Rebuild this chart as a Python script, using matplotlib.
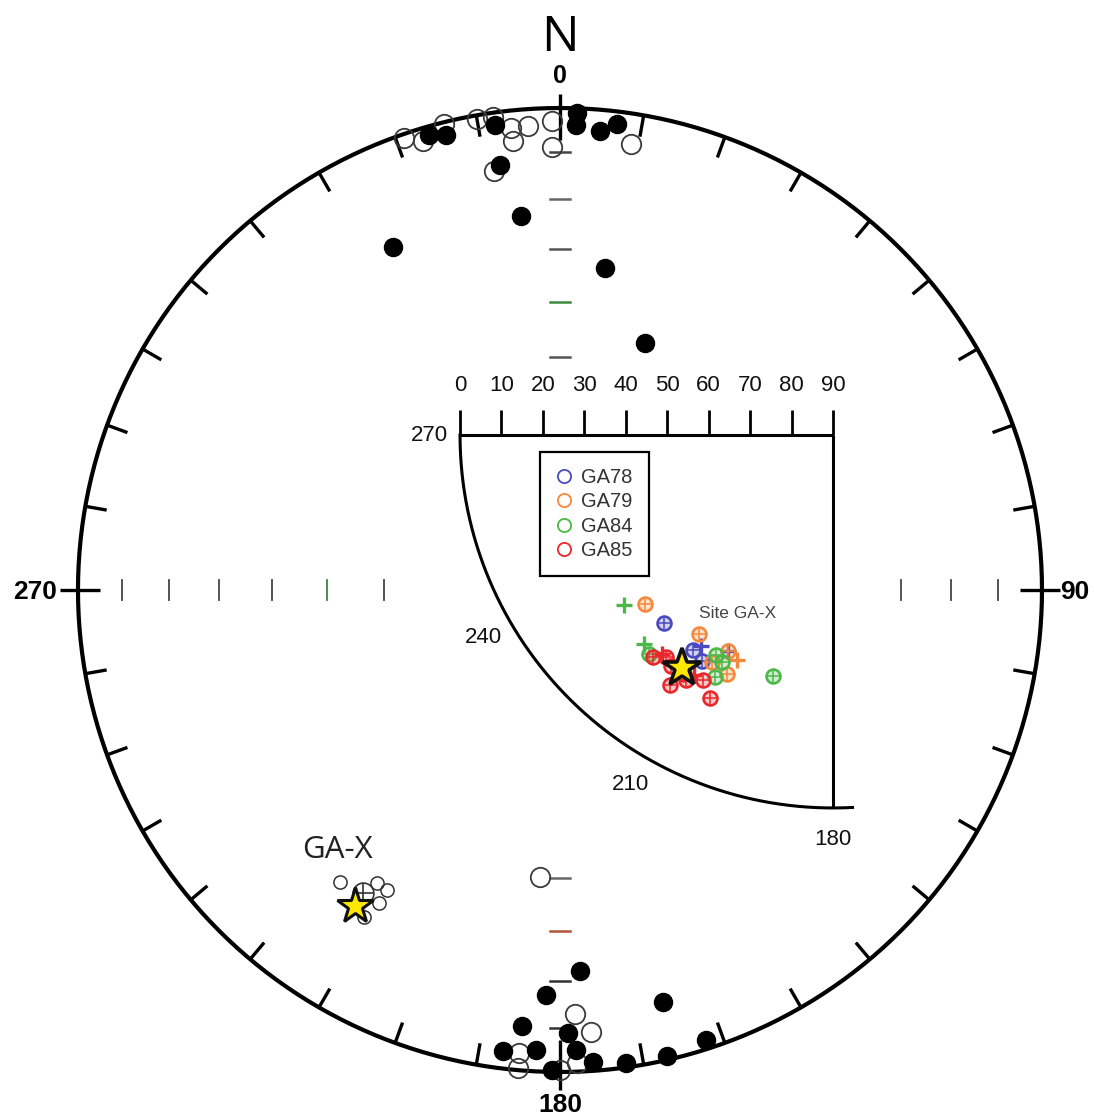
import numpy as np
import matplotlib
matplotlib.use("Agg")
import matplotlib.pyplot as plt
from matplotlib.lines import Line2D

# ---------------------------------------------------------------- data
# Specimen directions (declination, inclination in degrees).
# Positive inclination = lower hemisphere (filled), negative = upper (open).
lower_dec = [344, 346, 352, 2, 2, 5, 7, 352, 354, 334, 8, 19,
             177, 182, 166, 185, 179, 187, 183, 178, 176, 172, 167, 162, 181]
lower_inc = [2, 3, 3, 1, 4, 5, 3, 12, 23, 22, 33, 45,
             22, 17, 13, 10, 9, 4, 5, 5, 2, 1, 1, 2, 0.5]

upper_dec = [341, 343, 346, 350, 352, 354, 356, 359, 354, 359, 9, 351,
             178, 176, 185, 185, 178, 180, 184]
upper_inc = [-1, -3, -0.5, -1, -1, -4, -4, -3, -7, -9, -7, -13,
             -13, -9, -4, -0.5, -2, -0.5, -40]

# Site GA-X specimens and site mean (upper hemisphere)
gax_dec = [217, 212, 210, 210, 211]
gax_inc = [-25, -29, -29, -26, -22]
gax_mean_dec, gax_mean_inc = 213, -26

# Overall mean direction (star)
mean_dec, mean_inc = 213, 23

# Inset: directions per site, split by marker type
sites = ["GA78", "GA79", "GA84", "GA85"]
site_colors = ["#4a4ac0", "#f5883a", "#4cb848", "#e8282b"]
circ_dec = {"GA78": [222, 213, 210],
            "GA79": [214, 206, 204, 208, 228],
            "GA84": [220, 208, 206, 206, 194],
            "GA85": [219, 217, 213, 208, 205, 215, 211, 212]}
circ_inc = {"GA78": [29, 28, 27],
            "GA79": [32, 32, 27, 28, 29],
            "GA84": [21, 30, 29, 25, 30],
            "GA85": [21, 23, 18, 23, 20, 22, 21, 22]}
plus_dec = {"GA78": [212, 206], "GA79": [203], "GA84": [222, 231], "GA85": [218, 210]}
plus_inc = {"GA78": [30, 32], "GA79": [31], "GA84": [22, 25], "GA85": [23, 23]}

# Tick inclinations along the N/S/E/W axes and their colours
axis_ticks = {
    0:   ([10, 20, 30, 40, 50], ["#444444", "#666666", "#555555", "#3a8a3a", "#555555"]),
    180: ([40, 30, 20, 10], ["#666666", "#b5533c", "#333333", "#333333"]),
    270: ([10, 20, 30, 40, 50, 60], ["#444444", "#444444", "#444444", "#444444", "#3a8a3a", "#444444"]),
    90:  ([30, 20, 10], ["#444444", "#444444", "#444444"]),
}
inset_ticks = [0, 10, 20, 30, 40, 50, 60, 70, 80, 90]
inset_dec_labels = [270, 240, 210, 180]


# ---------------------------------------------------------------- projections
def eqarea(dec, inc):
    """Lambert equal-area (Schmidt) projection onto the unit circle."""
    d = np.radians(np.asarray(dec, float))
    i = np.abs(np.asarray(inc, float))
    r = np.sqrt(2) * np.sin(np.radians(90 - i) / 2)
    return r * np.sin(d), r * np.cos(d)


def polar_xy(dec, r):
    d = np.radians(np.asarray(dec, float))
    r = np.asarray(r, float)
    return r * np.sin(d), r * np.cos(d)


def polar_lin(dec, inc):
    """Linear polar plot: distance from centre = 90 - |inc| (degrees)."""
    return polar_xy(dec, 90 - np.abs(np.asarray(inc, float)))


# ---------------------------------------------------------------- figure
W, H = 1094, 1120
fig = plt.figure(figsize=(W / 100, H / 100), dpi=100)
ax = fig.add_axes([0, 0, 1, 1])
ax.set_xlim(-1.1618, 1.1079)
ax.set_ylim(-1.0996, 1.2241)
ax.axis("off")

# primitive circle
t = np.linspace(0, 2 * np.pi, 721)
ax.plot(np.sin(t), np.cos(t), color="black", lw=3, zorder=3)

# rim ticks every 10 degrees
for d in range(0, 360, 10):
    r0, r1 = 0.955, 1.0
    if d == 0:
        r0, r1 = 0.934, 1.03
    elif d == 180:
        r0, r1 = 0.934, 1.037
    elif d in (90, 270):
        r0, r1 = 0.955, 1.038
    s, c = np.sin(np.radians(d)), np.cos(np.radians(d))
    ax.plot([r0 * s, r1 * s], [r0 * c, r1 * c], color="black", lw=2.4,
            solid_capstyle="butt", zorder=3)

# inclination ticks along the cardinal axes
half = 0.021
for d, (incs, cols) in axis_ticks.items():
    x, y = eqarea([d] * len(incs), incs)
    for xi, yi, col in zip(x, y, cols):
        if d in (0, 180):
            ax.plot([-half, half], [yi, yi], color=col, lw=1.8, zorder=2)
        else:
            ax.plot([xi, xi], [-half, half], color=col, lw=1.3, zorder=2)

# specimen directions
xu, yu = eqarea(upper_dec, upper_inc)
ax.plot(xu, yu, "o", ms=14, mfc="none", mec="#3a3a3a", mew=1.3, zorder=4)
xl, yl = eqarea(lower_dec, lower_inc)
ax.plot(xl, yl, "o", ms=13, mfc="black", mec="black", zorder=5)

# site GA-X
xg, yg = eqarea(gax_dec, gax_inc)
ax.plot(xg, yg, "o", ms=9.5, mfc="none", mec="#333333", mew=1.1, zorder=4)
xm, ym = eqarea(gax_mean_dec, gax_mean_inc)
ax.plot(xm, ym, "o", ms=15, mfc="none", mec="#333333", mew=1.2, zorder=4)
ax.plot(xm, ym, "+", ms=15, mec="#333333", mew=1.2, zorder=4)
xs, ys = eqarea(mean_dec, mean_inc)
ax.plot(xs, ys, "*", ms=27, mfc="#ffe800", mec="#111111", mew=2.2, zorder=6)

# labels of the main net
lab = dict(family=["Liberation Sans", "DejaVu Sans"], fontweight="bold",
           ha="center", va="center", color="black")
ax.text(0, 1.145, "N", family=["Open Sans", "DejaVu Sans"], fontsize=36,
        ha="center", va="center")
ax.text(0, 1.066, "0", fontsize=18, **lab)
ax.text(0, -1.068, "180", fontsize=19, **lab)
ax.text(-1.089, -0.004, "270", fontsize=19, **lab)
ax.text(1.068, -0.004, "90", fontsize=19, **lab)
ax.text(-0.4627, -0.539, "GA-X", family=["Open Sans", "DejaVu Sans"],
        fontsize=22.5, ha="center", va="center", color="#222222")

# ---------------------------------------------------------------- inset
px = 4.144  # pixels per degree in the inset
cx, cy = 833, 435  # pixel location of the inset centre (inc = 90)
bx0, bx1, by0, by1 = 400, 870, 360, 870
axi = fig.add_axes([bx0 / W, 1 - by1 / H, (bx1 - bx0) / W, (by1 - by0) / H])
axi.set_xlim((bx0 - cx) / px, (bx1 - cx) / px)
axi.set_ylim((cy - by1) / px, (cy - by0) / px)
axi.axis("off")

ink = "#111111"
num = dict(ha="center", va="center", fontsize=16, color=ink,
           family=["Liberation Sans", "DejaVu Sans"])
axi.plot([-90, 0], [0, 0], color="black", lw=2.2, solid_capstyle="butt")
axi.plot([0, 0], [0, -90], color="black", lw=2.2, solid_capstyle="butt")
ta = np.linspace(177, 270, 200)
xa, ya = polar_xy(ta, 90)
axi.plot(xa, ya, color="black", lw=2.2)
for v in inset_ticks:
    x = -(90 - v)
    axi.plot([x, x], [0, 6], color="black", lw=2, solid_capstyle="butt")
    axi.text(x, 12, str(v), **num)
for d in inset_dec_labels:
    x, y = polar_xy(d, 97.5)
    axi.text(x, y, str(d), **num)

for s, col in zip(sites, site_colors):
    x, y = polar_lin(circ_dec[s], circ_inc[s])
    axi.plot(x, y, "o", ms=10, mfc=col + "40", mec=col, mew=1.9, zorder=3)
    axi.plot(x, y, "+", ms=10, mec=col, mew=1.1, zorder=3)
    x, y = polar_lin(plus_dec[s], plus_inc[s])
    axi.plot(x, y, "+", ms=11, mec=col, mew=2.4, zorder=3)

xs, ys = polar_lin(mean_dec, mean_inc)
axi.plot(xs, ys, "*", ms=29, mfc="#ffe800", mec="#111111", mew=2.6, zorder=5)
axi.text((738 - cx) / px, (cy - 613) / px, "Site GA-X", ha="center", va="center",
         fontsize=12.5, family=["Liberation Sans", "DejaVu Sans"], color="#444444")

handles = [Line2D([], [], ls="none", marker="o", ms=9.5, mfc="none", mec=c, mew=1.3)
           for c in site_colors]
leg = fig.legend(handles, sites, loc="upper left",
                 bbox_to_anchor=(540 / W, 1 - 452 / H), borderaxespad=0,
                 frameon=True, fancybox=False, framealpha=1, edgecolor="black",
                 prop=dict(family=["Liberation Sans", "DejaVu Sans"], size=14.5),
                 handlelength=0.8, handletextpad=0.45, labelspacing=0.26,
                 borderpad=0.8)
leg.get_frame().set_linewidth(1.6)
for txt in leg.get_texts():
    txt.set_color("#333333")

fig.savefig("out.png", dpi=100)
